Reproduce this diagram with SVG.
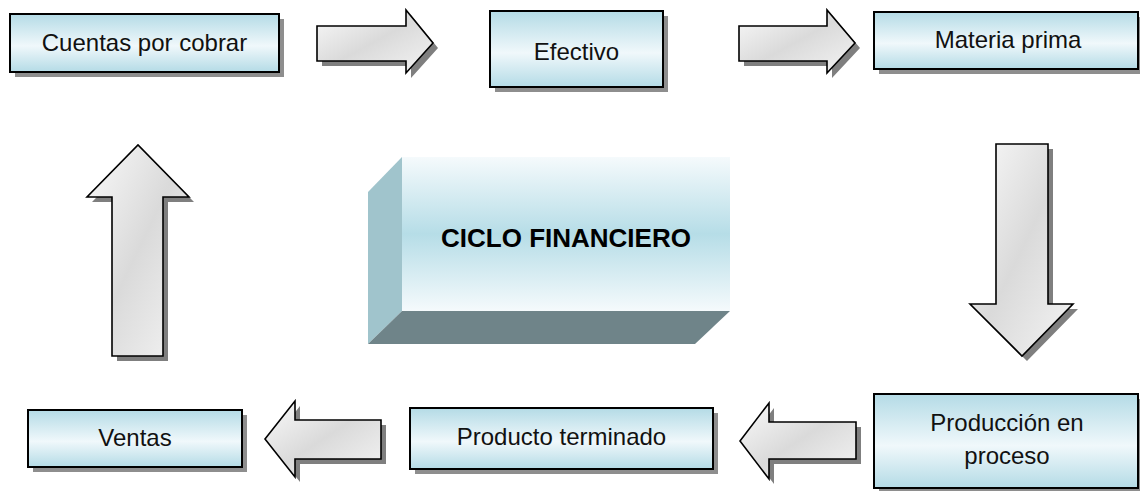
<svg xmlns="http://www.w3.org/2000/svg" width="1140" height="491" viewBox="0 0 1140 491">
<defs>
<linearGradient id="boxg" x1="0" y1="0" x2="0" y2="1">
<stop offset="0" stop-color="#b4dbe6"/>
<stop offset="0.55" stop-color="#f0f8fb"/>
<stop offset="1" stop-color="#b4dbe6"/>
</linearGradient>
<linearGradient id="frontg" x1="0" y1="0" x2="0" y2="1">
<stop offset="0" stop-color="#f5fafc"/>
<stop offset="0.5" stop-color="#b6dde7"/>
<stop offset="1" stop-color="#f5fafc"/>
</linearGradient>
<linearGradient id="arrg" x1="0" y1="0" x2="1" y2="1">
<stop offset="0" stop-color="#fafafa"/>
<stop offset="0.5" stop-color="#dadada"/>
<stop offset="1" stop-color="#f4f4f4"/>
</linearGradient>
</defs>
<style>
.box{fill:url(#boxg);stroke:#000;stroke-width:2}
.sh{fill:#8e8e8e}
.arr{fill:url(#arrg);stroke:#000;stroke-width:1.6;stroke-linejoin:miter}
.ash{fill:#7f7f7f}
.t{font-family:"Liberation Sans",Arial,sans-serif;font-size:24px;fill:#111;text-anchor:middle}
.tb{font-family:"Liberation Sans",Arial,sans-serif;font-size:26px;font-weight:bold;fill:#000;text-anchor:middle}
</style>
<rect width="1140" height="491" fill="#fff"/>

<g id="connectors">
<g id="arrow-cuentas-efectivo">
<path class="ash" transform="translate(5,5)" d="M317,26 H406 V10 L433,43 L406,73 V61 H317 Z"/>
<path class="arr" d="M317,26 H406 V10 L433,43 L406,73 V61 H317 Z"/>
</g>
<g id="arrow-efectivo-materia">
<path class="ash" transform="translate(5,5)" d="M739,26 H827 V10 L855,43 L827,73 V61 H739 Z"/>
<path class="arr" d="M739,26 H827 V10 L855,43 L827,73 V61 H739 Z"/>
</g>
<g id="arrow-materia-produccion">
<path class="ash" transform="translate(5,5)" d="M996,144 H1048 V304 H1073 L1022,356 L970,304 H996 Z"/>
<path class="arr" d="M996,144 H1048 V304 H1073 L1022,356 L970,304 H996 Z"/>
</g>
<g id="arrow-produccion-producto">
<path class="ash" transform="translate(5,5)" d="M856,422 H769 V403 L740,441 L769,479 V459 H856 Z"/>
<path class="arr" d="M856,422 H769 V403 L740,441 L769,479 V459 H856 Z"/>
</g>
<g id="arrow-producto-ventas">
<path class="ash" transform="translate(5,5)" d="M381,420 H295 V401 L265,439 L295,477 V459 H381 Z"/>
<path class="arr" d="M381,420 H295 V401 L265,439 L295,477 V459 H381 Z"/>
</g>
<g id="arrow-ventas-cuentas">
<path class="ash" transform="translate(5,5)" d="M112,356 V197 H87 L138,145 L189,197 H163 V356 Z"/>
<path class="arr" d="M112,356 V197 H87 L138,145 L189,197 H163 V356 Z"/>
</g>
</g>

<g id="node-cuentas">
<rect class="sh" x="15" y="19" width="269" height="58"/>
<rect class="box" x="10" y="14" width="269" height="58"/>
<text class="t" x="144.5" y="51">Cuentas por cobrar</text>
</g>

<g id="node-efectivo">
<rect class="sh" x="495" y="16" width="173" height="76"/>
<rect class="box" x="490" y="11" width="173" height="76"/>
<text class="t" x="576.5" y="60">Efectivo</text>
</g>

<g id="node-materia">
<rect class="sh" x="879" y="17" width="264" height="57"/>
<rect class="box" x="874" y="12" width="264" height="57"/>
<text class="t" x="1008" y="48">Materia prima</text>
</g>

<g id="node-ciclo">
<polygon points="368,192 402,157 402,311 368,344" fill="#a0c4cc"/>
<polygon points="368,344 402,311 730,311 695,344" fill="#6f8489"/>
<rect x="402" y="157" width="328" height="154" fill="url(#frontg)"/>
<text class="tb" x="566" y="247">CICLO FINANCIERO</text>
</g>

<g id="node-produccion">
<rect class="sh" x="879" y="399" width="264" height="94"/>
<rect class="box" x="874" y="394" width="264" height="94"/>
<text class="t" x="1007" y="431">Producción en</text>
<text class="t" x="1007" y="464">proceso</text>
</g>

<g id="node-producto">
<rect class="sh" x="415" y="413" width="303" height="61"/>
<rect class="box" x="410" y="408" width="303" height="61"/>
<text class="t" x="561.5" y="445">Producto terminado</text>
</g>

<g id="node-ventas">
<rect class="sh" x="33" y="415" width="214" height="57"/>
<rect class="box" x="28" y="410" width="214" height="57"/>
<text class="t" x="135" y="446">Ventas</text>
</g>
</svg>
